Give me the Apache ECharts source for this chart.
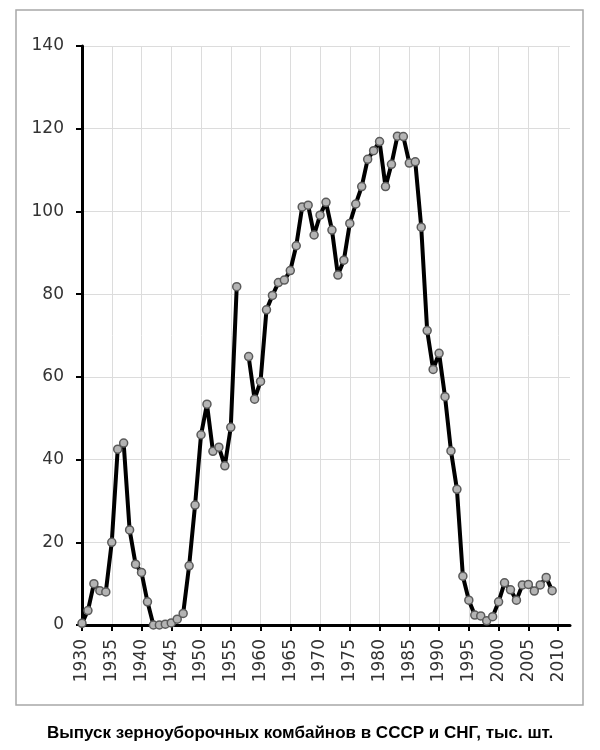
<!DOCTYPE html>
<html>
<head>
<meta charset="utf-8">
<script src="https://cdn.jsdelivr.net/npm/echarts@6/dist/echarts.min.js"></script>
<style>
html,body{margin:0;padding:0;background:#fff;}
#chart{width:600px;height:750px;}
</style>
</head>
<body>
<div id="chart"></div>
<script>
var years = ["1930","1931","1932","1933","1934","1935","1936","1937","1938","1939",
"1940","1941","1942","1943","1944","1945","1946","1947","1948","1949",
"1950","1951","1952","1953","1954","1955","1956","1957","1958","1959",
"1960","1961","1962","1963","1964","1965","1966","1967","1968","1969",
"1970","1971","1972","1973","1974","1975","1976","1977","1978","1979",
"1980","1981","1982","1983","1984","1985","1986","1987","1988","1989",
"1990","1991","1992","1993","1994","1995","1996","1997","1998","1999",
"2000","2001","2002","2003","2004","2005","2006","2007","2008","2009",
"2010","2011","2012"];
var output = [0.4,3.5,10,8.3,8,20,42.5,44,23,14.7,
12.7,5.6,0,0,0.2,0.5,1.4,2.8,14.3,29,
46,53.4,42,43,38.5,47.8,81.8,null,64.9,54.6,
58.9,76.2,79.7,82.8,83.4,85.7,91.7,101.1,101.5,94.3,
99.1,102.2,95.5,84.6,88.2,97.1,101.8,106,112.6,114.7,
116.9,106,111.4,118.2,118.1,111.7,112,96.2,71.2,61.8,
65.7,55.2,42.1,32.8,11.8,6,2.4,2.2,1,2,
5.6,10.2,8.5,6,9.7,9.8,8.2,9.7,11.5,8.3,
null,null,null];
var yMin = 0, yMax = 140, yStep = 20;
var titleText = "Выпуск зерноуборочных комбайнов в СССР и СНГ, тыс. шт.";

var chart = echarts.init(document.getElementById('chart'), null, {renderer:'canvas'});
chart.setOption({
  animation:false,
  backgroundColor:'#fff',
  grid:{left:82, right:30, top:46, bottom:125},
  xAxis:{
    type:'category', data:years, boundaryGap:false,
    axisLine:{show:true, lineStyle:{color:'#000', width:3}},
    axisTick:{show:true, interval:4, length:6, lineStyle:{color:'#000', width:2}},
    axisLabel:{interval:4, rotate:90, margin:14, fontSize:17, color:'#333', fontFamily:'DejaVu Sans'},
    splitLine:{show:true, interval:4, lineStyle:{color:'#dcdcdc', width:1}}
  },
  yAxis:{
    type:'value', min:yMin, max:yMax, interval:yStep,
    axisLine:{show:true, lineStyle:{color:'#000', width:3}},
    axisTick:{show:true, length:6, lineStyle:{color:'#000', width:2}},
    axisLabel:{margin:18, fontSize:17, color:'#333', fontFamily:'DejaVu Sans'},
    splitLine:{show:true, lineStyle:{color:'#dcdcdc', width:1}}
  },
  series:[{
    type:'line', data:output, connectNulls:false,
    symbol:'circle', symbolSize:8, showSymbol:true, showAllSymbol:true,
    lineStyle:{color:'#000', width:4},
    itemStyle:{color:'#b4b4b4', borderColor:'#5a5a5a', borderWidth:1.5},
    z:3
  }],
  graphic:[
    {type:'rect', shape:{x:16, y:10, width:567, height:695}, style:{fill:null, stroke:'#a8a8a8', lineWidth:1.5}, z:-1},
    {type:'text', x:300, y:733, style:{text:titleText, font:'bold 17px "Liberation Sans", Arial, sans-serif', fill:'#000', align:'center', verticalAlign:'middle'}}
  ]
});
</script>
</body>
</html>
